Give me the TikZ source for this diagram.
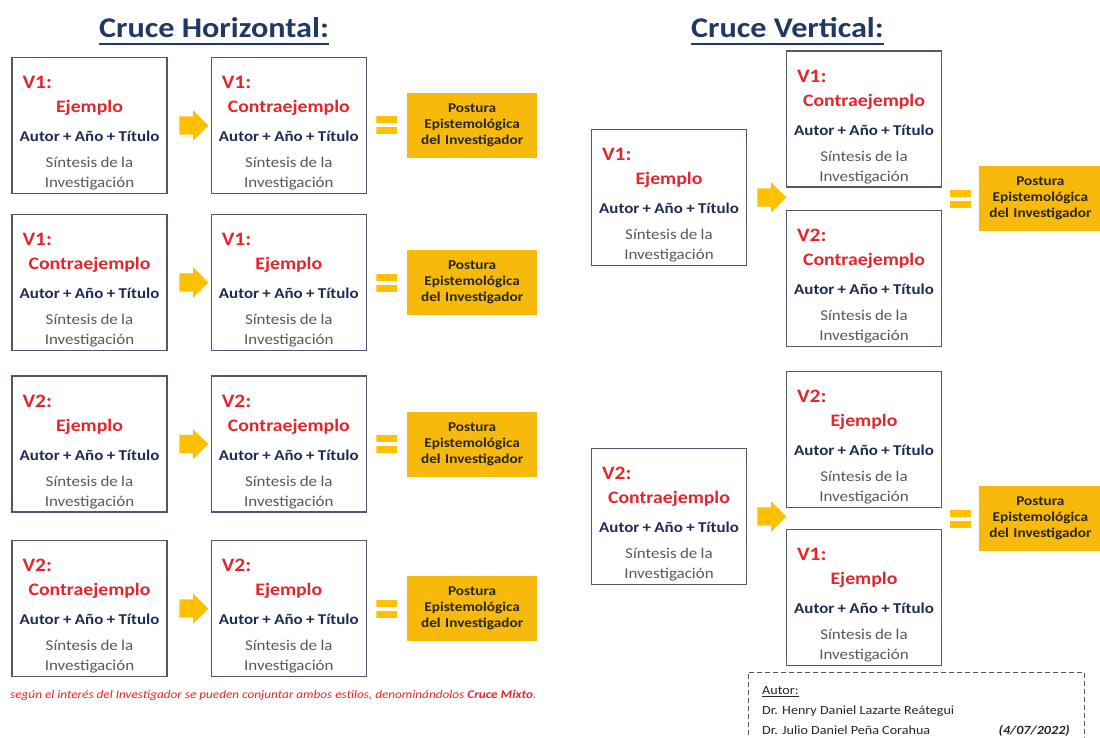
\documentclass[tikz,border=0pt]{standalone}
\usepackage{fontspec}
\setmainfont{Carlito}[FakeStretch=1.13]
\usetikzlibrary{shapes.arrows,calc,fit}

\definecolor{rojoej}{HTML}{E3262B}
\definecolor{azulaut}{HTML}{1F2A55}
\definecolor{grissin}{HTML}{595959}
\definecolor{bordeficha}{HTML}{4E576E}
\definecolor{azultit}{HTML}{1F3864}
\definecolor{amarillo}{HTML}{FFC000}
\definecolor{oropostura}{HTML}{F7BA0A}
\definecolor{negro}{HTML}{262626}
\definecolor{grisborde}{HTML}{555555}

% contenido de cada ficha
\newcommand{\ficha}[2]{%
  \makebox[\linewidth][l]{\rule{0pt}{28pt}\hspace{6pt}\fontsize{19}{24}\selectfont\color{rojoej}\bfseries #1}\par
  \fontsize{17.5}{24}\selectfont\color{rojoej}\bfseries #2\par
  \fontsize{15}{29}\selectfont\color{azulaut}Autor + Año + Título\par
  \fontsize{15}{26}\selectfont\color{grissin}\mdseries Síntesis de la\par
  \fontsize{15}{20}\selectfont Investigación\par}
\newcommand{\postura}{Postura\\ Epistemológica\\ del Investigador}

\begin{document}
\begin{tikzpicture}[x=1pt,y=-1pt,
  ficha/.style={draw=bordeficha,line width=1.3pt,fill=white,text width=146pt,minimum width=155pt,minimum height=136pt,inner xsep=4.5pt,inner ysep=0pt,align=center},
  posturabox/.style={fill=oropostura,minimum width=130pt,minimum height=65pt,text width=124pt,inner sep=0pt,align=center,text=negro,font=\fontsize{13.5}{16}\selectfont\bfseries},
  flecha/.style={single arrow,fill=amarillo,minimum height=29pt,single arrow head extend=6pt,inner xsep=2pt,inner ysep=9pt},
  igual/.style={minimum width=21pt,minimum height=18pt,inner sep=0pt,
    path picture={\fill[amarillo] (path picture bounding box.north west) rectangle ([yshift=-7pt]path picture bounding box.north east);
      \fill[amarillo] (path picture bounding box.south west) rectangle ([yshift=7pt]path picture bounding box.south east);}},
  titulo/.style={anchor=base,inner sep=0pt,text=azultit,font=\fontsize{28.5}{34}\selectfont\bfseries},
  subrayado/.style={azultit,line width=2pt}]
  \useasboundingbox (0,0) rectangle (1100,738);

  % Cruce horizontal
  \node[titulo] at (214,38) (tituloH) {Cruce Horizontal:};
  \draw[subrayado] ([yshift=-6pt]tituloH.base west) -- ([yshift=-6pt]tituloH.base east);

  \node[ficha] at (89.5,125.5) (h1a) {\ficha{V1:}{Ejemplo}};
  \node[ficha,anchor=west,xshift=43pt] at (h1a.east) (h1b) {\ficha{V1:}{Contraejemplo}};
  \node[posturabox,anchor=west,xshift=40pt] at (h1b.east) (h1p) {\postura};
  \node[flecha] at ($(h1a.east)!.5!(h1b.west)$) (h1f) {};
  \node[igual] at ($(h1b.east)!.5!(h1p.west)$) (h1i) {};

  \node[ficha] at (89.5,282.5) (h2a) {\ficha{V1:}{Contraejemplo}};
  \node[ficha,anchor=west,xshift=43pt] at (h2a.east) (h2b) {\ficha{V1:}{Ejemplo}};
  \node[posturabox,anchor=west,xshift=40pt] at (h2b.east) (h2p) {\postura};
  \node[flecha] at ($(h2a.east)!.5!(h2b.west)$) (h2f) {};
  \node[igual] at ($(h2b.east)!.5!(h2p.west)$) (h2i) {};

  \node[ficha] at (89.5,444) (h3a) {\ficha{V2:}{Ejemplo}};
  \node[ficha,anchor=west,xshift=43pt] at (h3a.east) (h3b) {\ficha{V2:}{Contraejemplo}};
  \node[posturabox,anchor=west,xshift=40pt] at (h3b.east) (h3p) {\postura};
  \node[flecha] at ($(h3a.east)!.5!(h3b.west)$) (h3f) {};
  \node[igual] at ($(h3b.east)!.5!(h3p.west)$) (h3i) {};

  \node[ficha] at (89.5,608.5) (h4a) {\ficha{V2:}{Contraejemplo}};
  \node[ficha,anchor=west,xshift=43pt] at (h4a.east) (h4b) {\ficha{V2:}{Ejemplo}};
  \node[posturabox,anchor=west,xshift=40pt] at (h4b.east) (h4p) {\postura};
  \node[flecha] at ($(h4a.east)!.5!(h4b.west)$) (h4f) {};
  \node[igual] at ($(h4b.east)!.5!(h4p.west)$) (h4i) {};

  \node[anchor=base west,inner sep=0pt,text=rojoej,font=\fontsize{11.7}{14}\selectfont\itshape] at (10,698) (nota)
    {según el interés del Investigador se pueden conjuntar ambos estilos, denominándolos \textbf{Cruce Mixto}.};

  % Cruce vertical
  \node[titulo] at (787.5,38) (tituloV) {Cruce Vertical:};
  \draw[subrayado] ([yshift=-6pt]tituloV.base west) -- ([yshift=-6pt]tituloV.base east);

  \node[ficha] at (669,197.5) (v1a) {\ficha{V1:}{Ejemplo}};
  \node[ficha] at (864,119) (v1b) {\ficha{V1:}{Contraejemplo}};
  \node[ficha] at (864,278.5) (v1c) {\ficha{V2:}{Contraejemplo}};
  \node[flecha] at ($(v1a.east)+(20,0)$) (v1f) {};
  \node[posturabox,minimum width=122pt,text width=118pt,anchor=west] at ($(v1b.east)!.5!(v1c.east)+(37,0)$) (v1p) {\postura};
  \node[igual] at ($(v1b.east)!.5!(v1c.east)!.5!(v1p.west)$) (v1i) {};

  \node[ficha] at (669,516.5) (v2a) {\ficha{V2:}{Contraejemplo}};
  \node[ficha] at (864,439.5) (v2b) {\ficha{V2:}{Ejemplo}};
  \node[ficha] at (864,597.5) (v2c) {\ficha{V1:}{Ejemplo}};
  \node[flecha] at ($(v2a.east)+(20,0)$) (v2f) {};
  \node[posturabox,minimum width=122pt,text width=118pt,anchor=west] at ($(v2b.east)!.5!(v2c.east)+(37,0)$) (v2p) {\postura};
  \node[igual] at ($(v2b.east)!.5!(v2c.east)!.5!(v2p.west)$) (v2i) {};

  % autores
  \node[anchor=north west,inner sep=0pt,align=left,text=negro,font=\fontsize{12.5}{20}\selectfont] at (762,686) (autor)
    {\underline{Autor:}\\ Dr. Henry Daniel Lazarte Reátegui\\ Dr. Julio Daniel Peña Corahua};
  \node[anchor=base east,inner sep=0pt,text=negro,font=\fontsize{12.5}{15}\selectfont\bfseries\itshape] at (1070,734) (fecha) {(4/07/2022)};
  \node[inner sep=14pt,fit=(autor) (fecha),draw=grisborde,line width=1pt,dash pattern=on 5pt off 3pt] (firma) {};
\end{tikzpicture}
\end{document}
